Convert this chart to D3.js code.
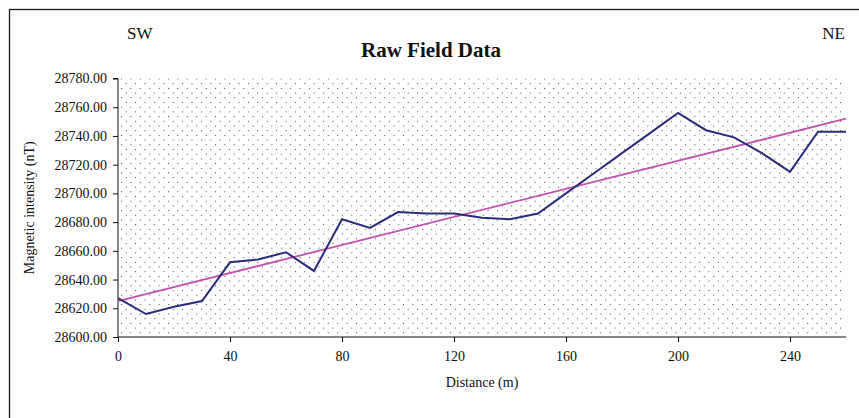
<!DOCTYPE html>
<html>
<head>
<meta charset="utf-8">
<script src="https://cdn.jsdelivr.net/npm/d3@7"></script>
<style>
  html, body { margin: 0; padding: 0; background: #fff; }
  svg { display: block; }
  text { font-family: "Liberation Serif", "Times New Roman", serif; fill: #111; }
</style>
</head>
<body>
<svg id="chart" width="859" height="418"></svg>
<script>
// Survey line: distance along profile (m) and total field reading (nT)
const distance = [0, 10, 20, 30, 40, 50, 60, 70, 80, 90, 100, 110, 120, 130,
                  140, 150, 160, 170, 180, 190, 200, 210, 220, 230, 240, 250, 260];
const intensity = [28627, 28616, 28621, 28625, 28652, 28654, 28659, 28646, 28682,
                   28676, 28687, 28686, 28686, 28683, 28682, 28686, 28700, 28714,
                   28728, 28742, 28756, 28744, 28739, 28728, 28715, 28743, 28743];
// Linear regional trend across the profile (start and end of the fitted line)
const trendDistance = [0, 260];
const trendIntensity = [28625, 28752];

const xTicks = [0, 40, 80, 120, 160, 200, 240];
const yTicks = [28600, 28620, 28640, 28660, 28680, 28700, 28720, 28740, 28760, 28780];

const svg = d3.select("#chart");
const plot = { left: 118, right: 846, top: 78.5, bottom: 337 };

const x = d3.scaleLinear().domain([0, 260]).range([plot.left, plot.right]);
const y = d3.scaleLinear().domain([28600, 28780]).range([plot.bottom, plot.top]);

// Outer chart frame (runs off the right and bottom edges)
svg.append("rect")
  .attr("x", 9.5).attr("y", 9.5)
  .attr("width", 900).attr("height", 500)
  .attr("fill", "none").attr("stroke", "#1a1a1a").attr("stroke-width", 1.3);

// Dotted plot-area fill
const defs = svg.append("defs");
const pat = defs.append("pattern")
  .attr("id", "dots")
  .attr("patternUnits", "userSpaceOnUse")
  .attr("x", plot.left + 3).attr("y", plot.top)
  .attr("width", 9.4).attr("height", 9.4);
pat.append("rect").attr("x", 0).attr("y", 0).attr("width", 1).attr("height", 1).attr("fill", "#444");
pat.append("rect").attr("x", 4.7).attr("y", 4.7).attr("width", 1).attr("height", 1).attr("fill", "#444");

svg.append("rect")
  .attr("x", plot.left).attr("y", plot.top)
  .attr("width", plot.right - plot.left - 3)
  .attr("height", plot.bottom - plot.top)
  .attr("fill", "url(#dots)");

// Axes
const yAxis = d3.axisLeft(y).tickValues(yTicks).tickSize(5).tickPadding(6)
  .tickFormat(d => d3.format(".2f")(d));
const gy = svg.append("g").attr("transform", `translate(${plot.left},0)`).call(yAxis);
gy.select(".domain").attr("stroke", "#111").attr("d", `M-5,${plot.top}H0V${plot.bottom}`);
gy.selectAll(".tick line").attr("stroke", "#111");
gy.selectAll("text")
  .style("font-family", '"Liberation Serif", "Times New Roman", serif')
  .style("font-size", "14px").attr("fill", "#111");

const xAxis = d3.axisBottom(x).tickValues(xTicks).tickSize(5).tickPadding(9)
  .tickFormat(d3.format("d"));
const gx = svg.append("g").attr("transform", `translate(0,${plot.bottom})`).call(xAxis);
gx.select(".domain").attr("stroke", "#111").attr("d", `M${plot.left},0H${plot.right}`);
gx.selectAll(".tick line").attr("stroke", "#111");
gx.selectAll("text")
  .style("font-family", '"Liberation Serif", "Times New Roman", serif')
  .style("font-size", "14px").attr("fill", "#111");

// Trend line
const trendData = trendDistance.map((d, i) => [d, trendIntensity[i]]);
svg.append("path")
  .datum(trendData)
  .attr("fill", "none")
  .attr("stroke", "#c353ad")
  .attr("stroke-width", 1.8)
  .attr("d", d3.line().x(d => x(d[0])).y(d => y(d[1])));

// Field readings
const fieldData = distance.map((d, i) => [d, intensity[i]]);
svg.append("path")
  .datum(fieldData)
  .attr("fill", "none")
  .attr("stroke", "#2c2c7c")
  .attr("stroke-width", 2)
  .attr("stroke-linejoin", "miter")
  .attr("d", d3.line().x(d => x(d[0])).y(d => y(d[1])));

// Titles and labels
svg.append("text")
  .attr("x", 431).attr("y", 56.5)
  .attr("text-anchor", "middle")
  .style("font-size", "21px").style("font-weight", "bold")
  .text("Raw Field Data");

svg.append("text")
  .attr("x", 127).attr("y", 39)
  .style("font-size", "17px")
  .text("SW");

svg.append("text")
  .attr("x", 845).attr("y", 39)
  .attr("text-anchor", "end")
  .style("font-size", "17px")
  .text("NE");

svg.append("text")
  .attr("x", (plot.left + plot.right) / 2).attr("y", 386.5)
  .attr("text-anchor", "middle")
  .style("font-size", "14px")
  .text("Distance (m)");

svg.append("text")
  .attr("transform", `translate(34,${(plot.top + plot.bottom) / 2}) rotate(-90)`)
  .attr("text-anchor", "middle")
  .style("font-size", "14px")
  .text("Magnetic intensity (nT)");
</script>
</body>
</html>
